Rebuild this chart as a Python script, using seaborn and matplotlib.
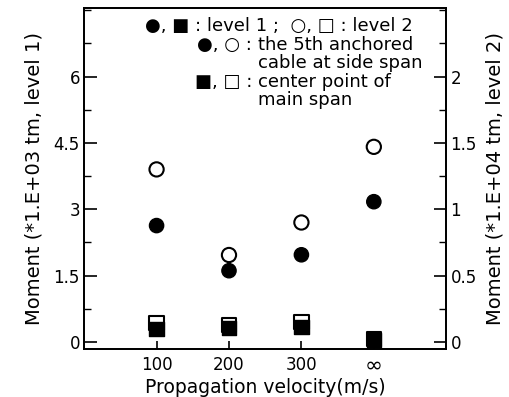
import matplotlib
import numpy as np
import pandas as pd

matplotlib.use("Agg")
import matplotlib.pyplot as plt
import seaborn as sns
from matplotlib.ticker import MultipleLocator

velocities = ["100", "200", "300", "\u221e"]
cable_level1 = [2.63, 1.61, 1.97, 3.17]
center_level1 = [0.30, 0.32, 0.34, 0.04]
cable_level2 = [1.30, 0.655, 0.90, 1.47]
center_level2 = [0.14, 0.13, 0.15, 0.02]

left_ticks = [0, 1.5, 3, 4.5, 6]
left_labels = ["0", "1.5", "3", "4.5", "6"]
right_ticks = [0, 0.5, 1, 1.5, 2]
right_labels = ["0", "0.5", "1", "1.5", "2"]

sns.set_style("ticks")
plt.rcParams["font.family"] = ["DejaVu Sans"]
plt.rcParams.update({"text.color": "black", "axes.labelcolor": "black",
                     "xtick.color": "black", "ytick.color": "black"})

pos = np.arange(1, len(velocities) + 1)
lvl1 = pd.DataFrame({"x": np.concatenate([pos, pos]),
                     "y": cable_level1 + center_level1,
                     "point": ["cable"] * 4 + ["center"] * 4})
lvl2 = pd.DataFrame({"x": np.concatenate([pos, pos]),
                     "y": cable_level2 + center_level2,
                     "point": ["cable"] * 4 + ["center"] * 4})
shapes = {"cable": "o", "center": "s"}

fig, ax = plt.subplots(figsize=(5.1, 3.97), dpi=100)
fig.subplots_adjust(left=0.165, right=0.875, top=0.98, bottom=0.122)
ax2 = ax.twinx()
# level 1 (filled) sits on top of level 2 (open)
ax.set_zorder(ax2.get_zorder() + 1)
ax.patch.set_visible(False)

sns.scatterplot(data=lvl2, x="x", y="y", style="point", markers=shapes,
                color="white", s=105, edgecolor="black", linewidth=1.5, legend=False, ax=ax2)
sns.scatterplot(data=lvl1, x="x", y="y", style="point", markers=shapes,
                color="black", s=105, edgecolor="black", linewidth=1.0, legend=False, ax=ax)

ax.set_xlim(0, 5)
ax.set_ylim(-0.15, 7.55)
ax2.set_ylim(-0.05, 7.55 / 3)
ax.set_xticks(pos)
ax.set_xticklabels(velocities)
ax.set_yticks(left_ticks)
ax.set_yticklabels(left_labels)
ax2.set_yticks(right_ticks)
ax2.set_yticklabels(right_labels)
ax.yaxis.set_minor_locator(MultipleLocator(0.75))
ax2.yaxis.set_minor_locator(MultipleLocator(0.25))

ax.tick_params(axis="y", which="major", direction="in", length=9, width=1.2, labelsize=12, pad=3)
ax.tick_params(axis="y", which="minor", direction="in", length=5, width=1)
ax.tick_params(axis="x", direction="in", length=6, width=1.2, labelsize=12, pad=5)
ax.get_xticklabels()[-1].set_fontsize(15.5)
ax2.tick_params(axis="y", which="major", direction="in", length=9, width=1.2, labelsize=12, pad=3)
ax2.tick_params(axis="y", which="minor", direction="in", length=5, width=1)
for a in (ax, ax2):
    for s in a.spines.values():
        s.set_linewidth(1.3)
        s.set_color("black")

ax.set_xlabel("Propagation velocity(m/s)", fontsize=13.5)
ax.xaxis.set_label_coords(0.5, -0.085)
ax.set_ylabel("Moment (*1.E+03 tm, level 1)", fontsize=14, labelpad=7)
ax2.set_ylabel("Moment (*1.E+04 tm, level 2)", fontsize=14, labelpad=6)

# key written as text inside the plot, positions in figure pixels
key_lines = [
    (145, 26, "left", "\u25cf, \u25a0 : level 1 ;  \u25cb, \u25a1 : level 2"),
    (252, 45, "right", "\u25cf, \u25cb :"),
    (258, 45, "left", "the 5th anchored"),
    (258, 63, "left", "cable at side span"),
    (252, 82, "right", "\u25a0, \u25a1 :"),
    (258, 82, "left", "center point of"),
    (258, 100, "left", "main span"),
]
for x, y, ha, txt in key_lines:
    fig.text(x / 510, 1 - y / 397, txt, fontsize=13, ha=ha, va="center")

fig.savefig("out.png", dpi=100)
